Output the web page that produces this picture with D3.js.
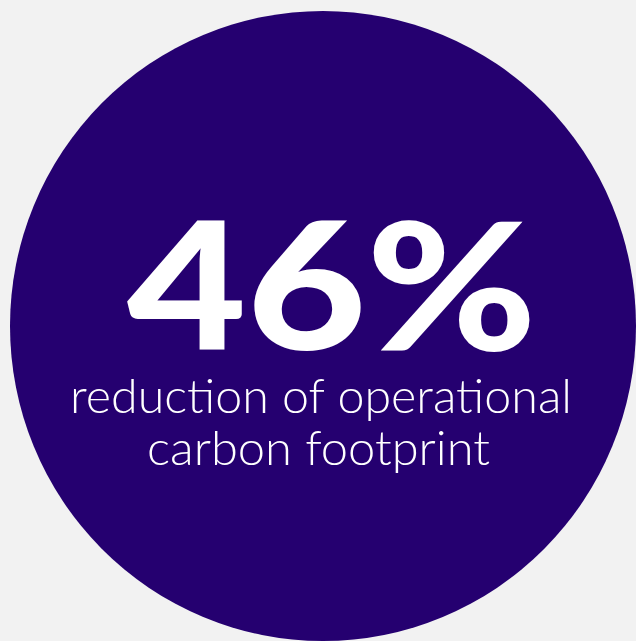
<!DOCTYPE html>
<html>
<head>
<meta charset="utf-8">
<script src="https://cdn.jsdelivr.net/npm/d3@7"></script>
<style>
  html, body { margin: 0; padding: 0; background: #f2f2f2; }
  svg { display: block; }
</style>
</head>
<body>
<div id="chart"></div>
<script>
// values
const statValue = ["46%"];
const labelLines = ["reduction of operational", "carbon footprint"];

const width = 636;
const height = 641;

const svg = d3.select("#chart").append("svg")
    .attr("width", width)
    .attr("height", height);

// background
svg.append("rect")
    .attr("width", width)
    .attr("height", height)
    .attr("fill", "#f2f2f2");

// big circle
svg.append("ellipse")
    .attr("cx", 323)
    .attr("cy", 326)
    .attr("rx", 313)
    .attr("ry", 315)
    .attr("fill", "#250070");

// big number
svg.selectAll(".stat")
    .data(statValue)
    .enter()
    .append("text")
    .attr("class", "stat")
    .attr("x", 127)
    .attr("y", 350)
    .attr("textLength", 410)
    .attr("lengthAdjust", "spacingAndGlyphs")
    .style("font-family", "Lato, sans-serif")
    .style("font-weight", 900)
    .style("font-size", "178px")
    .style("fill", "#ffffff")
    .text(d => d);

// caption lines
const lineBox = [
    {x: 70, y: 413, w: 502},
    {x: 147, y: 465, w: 343}
];

svg.selectAll(".label")
    .data(labelLines)
    .enter()
    .append("text")
    .attr("class", "label")
    .attr("x", (d, i) => lineBox[i].x)
    .attr("y", (d, i) => lineBox[i].y)
    .attr("textLength", (d, i) => lineBox[i].w)
    .attr("lengthAdjust", "spacingAndGlyphs")
    .style("font-family", "Lato, sans-serif")
    .style("font-weight", 300)
    .style("font-size", "48px")
    .style("fill", "#ffffff")
    .text(d => d);
</script>
</body>
</html>
